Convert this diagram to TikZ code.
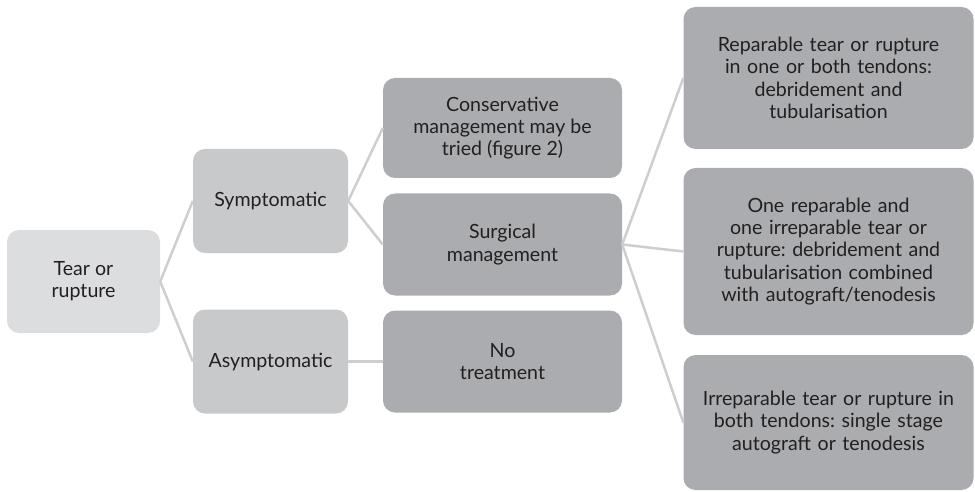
\documentclass[tikz,border=0pt]{standalone}
\usepackage{fontspec}
\setmainfont{Lato}
\frenchspacing
\definecolor{rootgray}{RGB}{220, 221, 223}
\definecolor{midgray}{RGB}{200, 201, 203}
\definecolor{leafgray}{RGB}{170, 172, 175}
\definecolor{linkgray}{RGB}{206, 206, 206}
\definecolor{inkgray}{RGB}{35, 31, 32}
\usetikzlibrary{positioning}

\tikzset{
  box/.style={rounded corners=12pt, draw=none, align=center, inner sep=4pt,
    text=inkgray, font=\fontsize{19.6}{22.3}\selectfont},
  rootbox/.style={box, fill=rootgray, minimum width=153pt, minimum height=103pt},
  midbox/.style={box, fill=midgray, minimum width=155pt, minimum height=104pt},
  leafbox/.style={box, fill=leafgray, minimum width=239pt, minimum height=102pt},
  endbox/.style={box, fill=leafgray, minimum width=287pt, text width=282pt},
  link/.style={draw=linkgray, line width=2.5pt}
}

\begin{document}
\begin{tikzpicture}[x=1pt, y=-1pt]
  \useasboundingbox (0,0) rectangle (975,492);

  % Root
  \node[rootbox] (tear) at (83.5, 281.5) {Tear or\\rupture};

  % Second level
  \node[midbox] (sympt) at (270.5, 201) {Symptomatic};
  \node[midbox] (asympt) at (270.5, 361.5) {Asymptomatic};

  % Third level
  \node[leafbox, minimum height=100pt] (conserv) at (502.5, 128) {Conservative\\management may be\\tried (figure 2)};
  \node[leafbox] (surg) at (502.5, 244.5) {Surgical\\management};
  \node[leafbox] (notreat) at (502.5, 361.5) {No\\treatment};

  % Surgical options
  \node[endbox, minimum height=142pt] (repair) at (828.5, 78) {Reparable tear or rupture\\in one or both tendons:\\debridement and\\tubularisation};
  \node[endbox, minimum height=167pt] (mixed) at (828.5, 251.5) {One reparable and\\one irreparable tear or\\rupture: debridement and\\tubularisation combined\\with autograft/tenodesis};
  \node[endbox, minimum height=135pt] (irrep) at (828.5, 422.5) {Irreparable tear or rupture in\\both tendons: single stage\\autograft or tenodesis};

  % Connectors
  \draw[link] (tear.east) -- (sympt.west);
  \draw[link] (tear.east) -- (asympt.west);
  \draw[link] (sympt.east) -- (conserv.west);
  \draw[link] (sympt.east) -- (surg.west);
  \draw[link] (asympt.east) -- (notreat.west);
  \draw[link] (surg.east) -- (repair.west);
  \draw[link] (surg.east) -- (mixed.west);
  \draw[link] (surg.east) -- (irrep.west);
\end{tikzpicture}
\end{document}
